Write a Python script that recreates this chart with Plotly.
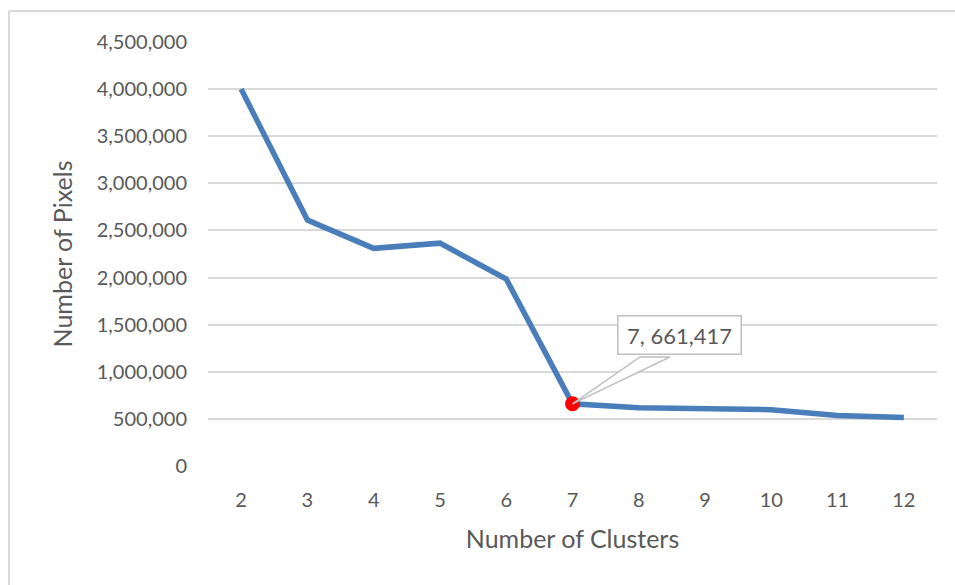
import plotly.graph_objects as go

clusters = [2, 3, 4, 5, 6, 7, 8, 9, 10, 11, 12]
pixels = [4000000, 2610000, 2310000, 2365000, 1985000, 660000, 618000, 615000, 598000, 535000, 515000]
highlight_cluster = 7
highlight_value = 660000
label_text = "7, 661,417"
y_ticks = [0, 500000, 1000000, 1500000, 2000000, 2500000, 3000000, 3500000, 4000000, 4500000]
y_tick_labels = ["0", "500,000", "1,000,000", "1,500,000", "2,000,000", "2,500,000",
                 "3,000,000", "3,500,000", "4,000,000", "4,500,000"]

FONT = "Lato, Open Sans, sans-serif"
TXT = "#595959"

fig = go.Figure()
fig.add_trace(go.Scatter(x=clusters, y=pixels, mode="lines",
                         line=dict(color="#4a7ebb", width=5.5), hoverinfo="skip"))

# callout wedge
fig.add_shape(type="path",
              path=f"M {highlight_cluster},{highlight_value} L 8.02,1157000 L 8.47,1157000 Z",
              xref="x", yref="y", fillcolor="white",
              line=dict(color="#bfbfbf", width=1.5), layer="above")

fig.add_trace(go.Scatter(x=[highlight_cluster], y=[highlight_value], mode="markers",
                         marker=dict(color="#ff0000", size=15), hoverinfo="skip"))

fig.add_annotation(x=8.61, y=1395000, xref="x", yref="y", text=label_text,
                   showarrow=False, font=dict(family=FONT, size=22, color=TXT),
                   bgcolor="white", bordercolor="#bfbfbf", borderwidth=1.5,
                   borderpad=0, width=122, height=37)

# outer chart border (top and left edges visible)
fig.add_shape(type="line", xref="paper", yref="paper", x0=-0.273, x1=1.3, y0=1.073, y1=1.073,
              line=dict(color="#d9d9d9", width=2), layer="below")
fig.add_shape(type="line", xref="paper", yref="paper", x0=-0.273, x1=-0.273, y0=-0.5, y1=1.073,
              line=dict(color="#d9d9d9", width=2), layer="below")

fig.update_layout(
    width=955, height=585,
    margin=dict(l=208, r=18, t=42, b=119),
    paper_bgcolor="white", plot_bgcolor="white",
    showlegend=False,
    font=dict(family=FONT, color=TXT, size=20),
)
fig.update_xaxes(
    range=[1.5, 12.5], tickmode="array", tickvals=clusters,
    ticktext=[str(c) for c in clusters],
    showgrid=False, zeroline=False, showline=False, ticks="",
    ticklabelstandoff=20,
    tickfont=dict(family=FONT, size=20, color=TXT),
    title=dict(text="Number of Clusters", font=dict(family=FONT, size=25, color=TXT), standoff=20),
)
fig.update_yaxes(
    range=[0, 4500000], tickmode="array", tickvals=y_ticks, ticktext=y_tick_labels,
    showgrid=True, gridcolor="#d9d9d9", gridwidth=1.5, zeroline=False, showline=False,
    ticks="", ticklabelstandoff=20,
    tickfont=dict(family=FONT, size=20, color=TXT),
    title=dict(text="Number of Pixels", font=dict(family=FONT, size=25, color=TXT), standoff=16),
)

fig.write_html(
    "out.html",
    config={"displayModeBar": False},
    post_script="document.body.style.margin='0';document.body.style.overflow='hidden';"
                "document.documentElement.style.overflow='hidden';",
)
